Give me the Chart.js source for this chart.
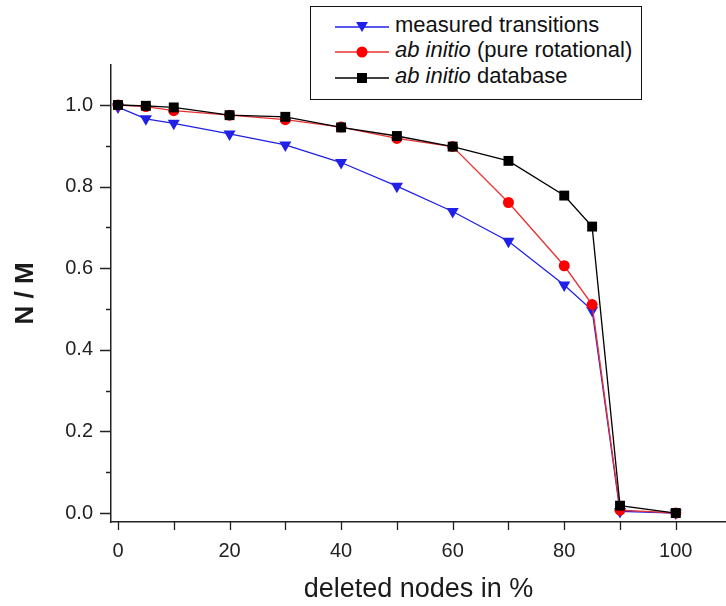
<!DOCTYPE html>
<html lang="en">
<head>
<meta charset="UTF-8">
<title>N / M vs deleted nodes</title>
<style>
    html, body { margin: 0; padding: 0; background: #fff; }
    #wrap { position: relative; width: 726px; height: 606px; }
    #legendBox {
        position: absolute; left: 310px; top: 6px; width: 332px; height: 94px;
        box-sizing: border-box; border: 1.5px solid #111; background: #fff;
    }
    .key { position: absolute; left: 335px; }
    .label {
        position: absolute; left: 395px; height: 26px; line-height: 26px; white-space: nowrap;
        font-family: "Liberation Sans", Arial, sans-serif; font-size: 22px; color: #111;
    }
</style>
</head>
<body>
<div id="wrap">
    <canvas id="myChart" width="726" height="606"></canvas>
    <div id="legendBox"></div>
    <svg class="key" style="top: 19px;" width="54" height="16"><line x1="0" y1="8" x2="54" y2="8" stroke="#2020e8" stroke-width="1.3"/><polygon points="21,3 33,3 27,13" fill="#2020e8"/></svg>
    <span class="label" style="top: 12px;">measured transitions</span>
    <svg class="key" style="top: 44px;" width="54" height="16"><line x1="0" y1="8" x2="54" y2="8" stroke="#e83030" stroke-width="1.3"/><circle cx="27" cy="8" r="5.5" fill="#ff0000"/></svg>
    <span class="label" style="top: 37px;"><i>ab initio</i> (pure rotational)</span>
    <svg class="key" style="top: 70px;" width="54" height="16"><line x1="0" y1="8" x2="54" y2="8" stroke="#000" stroke-width="1.3"/><rect x="22" y="3" width="10" height="10" fill="#000"/></svg>
    <span class="label" style="top: 63px;"><i>ab initio</i> database</span>
</div>
<script src="https://cdn.jsdelivr.net/npm/chart.js"></script>
<script>
    const deletedPct = [0, 5, 10, 20, 30, 40, 50, 60, 70, 80, 85, 90, 100];
    const measured   = [0.995, 0.966, 0.955, 0.929, 0.902, 0.859, 0.801, 0.739, 0.666, 0.559, 0.497, 0.004, 0.0];
    const pureRot    = [1.0, 0.996, 0.986, 0.975, 0.964, 0.946, 0.918, 0.898, 0.761, 0.606, 0.511, 0.007, 0.0];
    const database   = [1.0, 0.998, 0.994, 0.975, 0.971, 0.945, 0.924, 0.898, 0.863, 0.778, 0.702, 0.018, 0.0];

    const xTickValues = [0, 10, 20, 30, 40, 50, 60, 70, 80, 90, 100];
    const yTickValues = [0, 0.1, 0.2, 0.3, 0.4, 0.5, 0.6, 0.7, 0.8, 0.9, 1.0];

    const fontFamily = '"Liberation Sans", Arial, sans-serif';

    function toPoints(ys) {
        return deletedPct.map((x, i) => ({ x: x, y: ys[i] }));
    }

    // outward tick marks: y has long majors and short minors, x all the same
    const tickMarks = {
        id: 'tickMarks',
        afterDraw(chart) {
            const ctx = chart.ctx;
            const x = chart.scales.x;
            const y = chart.scales.y;
            ctx.save();
            ctx.strokeStyle = '#222';
            ctx.lineWidth = 1.3;
            ctx.beginPath();
            xTickValues.forEach(v => {
                const px = Math.round(x.getPixelForValue(v)) + 0.5;
                ctx.moveTo(px, y.bottom);
                ctx.lineTo(px, y.bottom + 8);
            });
            yTickValues.forEach((v, i) => {
                const py = Math.round(y.getPixelForValue(v)) + 0.5;
                const len = i % 2 === 0 ? 11 : 5;
                ctx.moveTo(x.left, py);
                ctx.lineTo(x.left - len, py);
            });
            ctx.stroke();
            ctx.restore();
        }
    };

    const ctx = document.getElementById('myChart').getContext('2d');
    new Chart(ctx, {
        type: 'line',
        data: {
            datasets: [
                {
                    label: 'measured transitions',
                    data: toPoints(measured),
                    borderColor: '#2020e8',
                    backgroundColor: '#2020e8',
                    borderWidth: 1.3,
                    pointStyle: 'triangle',
                    pointRotation: 180,
                    pointRadius: 7,
                    pointBorderWidth: 0,
                    order: 2
                },
                {
                    label: 'ab initio (pure rotational)',
                    data: toPoints(pureRot),
                    borderColor: '#e83030',
                    backgroundColor: '#ff0000',
                    borderWidth: 1.3,
                    pointStyle: 'circle',
                    pointRadius: 5.5,
                    pointBorderWidth: 0,
                    order: 1
                },
                {
                    label: 'ab initio database',
                    data: toPoints(database),
                    borderColor: '#000',
                    backgroundColor: '#000',
                    borderWidth: 1.3,
                    pointStyle: 'rect',
                    pointRadius: 7,
                    pointBorderWidth: 0,
                    order: 0
                }
            ]
        },
        options: {
            responsive: false,
            animation: false,
            layout: { autoPadding: false, padding: { top: 65, right: 0, left: 0, bottom: 0 } },
            plugins: {
                legend: { display: false },
                tooltip: { enabled: false }
            },
            scales: {
                x: {
                    type: 'linear',
                    min: -1.25,
                    max: 109,
                    grid: { display: false, drawTicks: false },
                    border: { display: true, color: '#222', width: 1.5 },
                    ticks: {
                        stepSize: 20,
                        includeBounds: false,
                        padding: 17,
                        color: '#222',
                        font: { family: fontFamily, size: 20 }
                    },
                    title: {
                        display: true,
                        text: 'deleted nodes in %',
                        color: '#1a1a1a',
                        font: { family: fontFamily, size: 27 },
                        padding: { top: 0, bottom: 0 }
                    },
                    afterFit(scale) { scale.height = 84; }
                },
                y: {
                    min: -0.022,
                    max: 1.098,
                    grid: { display: false, drawTicks: false },
                    border: { display: true, color: '#222', width: 1.5 },
                    ticks: {
                        stepSize: 0.2,
                        includeBounds: false,
                        padding: 18,
                        color: '#222',
                        font: { family: fontFamily, size: 20 },
                        callback: v => v.toFixed(1)
                    },
                    title: {
                        display: true,
                        text: 'N / M',
                        color: '#1a1a1a',
                        font: { family: fontFamily, size: 26, weight: 'bold' },
                        padding: { top: 10, bottom: 0 }
                    },
                    afterFit(scale) { scale.width = 111; }
                }
            }
        },
        plugins: [tickMarks]
    });
</script>
</body>
</html>
